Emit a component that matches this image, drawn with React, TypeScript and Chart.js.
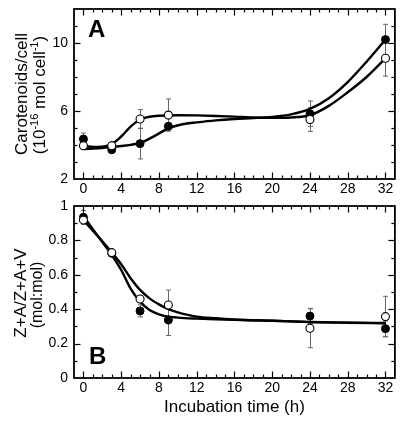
import React, { useEffect, useRef } from "react";
import { Chart, registerables } from "chart.js";

Chart.register(...registerables);

// ---- Data ----
const timePoints = [0, 3, 6, 9, 24, 32];

// Panel A: carotenoids per cell (10^-16 mol cell^-1)
const caroFilled = [4.35, 3.72, 4.08, 5.1, 5.84, 10.2];
const caroFilledErr = [0.35, 0.1, 0.9, 0.2, 0.75, 0.9];
const caroOpen = [3.96, 3.96, 5.53, 5.76, 5.5, 9.1];
const caroOpenErr = [0.1, 0.25, 0.55, 0.95, 0.7, 1.05];

const caroFitFilledX = [0, 1.5, 3, 4.5, 6, 7.5, 9, 10.5, 12, 14, 16, 18, 20, 22, 24, 26, 28, 30, 32];
const caroFitFilledY = [3.76, 3.8, 3.88, 3.97, 4.12, 4.52, 4.98, 5.22, 5.33, 5.45, 5.53, 5.58, 5.65, 5.8, 6.12, 6.75, 7.7, 8.9, 10.2];
const caroFitOpenX = [0, 1.5, 3, 4, 5, 6, 7, 8, 10, 12, 14, 16, 18, 20, 22, 24, 26, 28, 30, 32];
const caroFitOpenY = [3.93, 3.88, 4.05, 4.5, 5.08, 5.5, 5.66, 5.72, 5.75, 5.74, 5.71, 5.67, 5.62, 5.6, 5.62, 5.75, 6.3, 7.1, 8.0, 9.1];

// Panel B: Z+A / Z+A+V (mol:mol)
const ratioFilled = [0.934, 0.725, 0.39, 0.337, 0.36, 0.287];
const ratioFilledErr = [0.04, 0.01, 0.035, 0.09, 0.045, 0.045];
const ratioOpen = [0.918, 0.729, 0.459, 0.424, 0.289, 0.357];
const ratioOpenErr = [0.02, 0.01, 0.02, 0.087, 0.113, 0.118];

const ratioFitFilledX = [0, 1, 2, 3, 4, 5, 6, 7, 8, 9, 10, 12, 14, 16, 20, 24, 28, 32];
const ratioFitFilledY = [0.94, 0.865, 0.79, 0.715, 0.628, 0.52, 0.444, 0.395, 0.37, 0.357, 0.351, 0.345, 0.341, 0.338, 0.333, 0.325, 0.321, 0.318];
const ratioFitOpenX = [0, 1, 2, 3, 4, 5, 6, 7, 8, 9, 10, 12, 14, 16, 20, 24, 28, 32];
const ratioFitOpenY = [0.918, 0.857, 0.795, 0.73, 0.661, 0.58, 0.512, 0.463, 0.428, 0.4, 0.382, 0.357, 0.347, 0.34, 0.333, 0.326, 0.322, 0.32];

// Tick labels
const xTickLabels = [0, 4, 8, 12, 16, 20, 24, 28, 32];
const yTickLabelsA = [2, 6, 10];
const yTickLabelsB = [0, 0.2, 0.4, 0.6, 0.8, 1];

const FONT = '"Liberation Sans", Arial, Helvetica, sans-serif';

const pts = (xs: number[], ys: number[]) => xs.map((x, i) => ({ x, y: ys[i] }));
const hasLabel = (list: number[], v: number) => list.some((l) => Math.abs(l - v) < 1e-6);
const fmt = (v: number) => String(Math.round(v * 10) / 10);

// ---- Plugins ----
const errorBarsPlugin = {
  id: "errorBars",
  beforeDatasetsDraw(chart: any) {
    const { ctx, scales } = chart;
    const xs = scales.x;
    const ys = scales.y;
    ctx.save();
    ctx.strokeStyle = "#666";
    ctx.lineWidth = 1;
    chart.data.datasets.forEach((ds: any) => {
      if (!ds.errors) return;
      ds.data.forEach((p: any, i: number) => {
        const e = ds.errors[i];
        if (!e) return;
        const px = Math.round(xs.getPixelForValue(p.x)) + 0.5;
        const yt = ys.getPixelForValue(p.y + e);
        const yb = ys.getPixelForValue(p.y - e);
        ctx.beginPath();
        ctx.moveTo(px, yt);
        ctx.lineTo(px, yb);
        ctx.moveTo(px - 2.5, yt);
        ctx.lineTo(px + 2.5, yt);
        ctx.moveTo(px - 2.5, yb);
        ctx.lineTo(px + 2.5, yb);
        ctx.stroke();
      });
    });
    ctx.restore();
  },
};

const frameTicksPlugin = {
  id: "frameTicks",
  afterDatasetsDraw(chart: any) {
    const { ctx, chartArea: a, scales } = chart;
    const xs = scales.x;
    const ys = scales.y;
    ctx.save();
    ctx.strokeStyle = "#000";
    ctx.lineWidth = 1.2;
    const seg = (x1: number, y1: number, x2: number, y2: number) => {
      ctx.beginPath();
      ctx.moveTo(x1, y1);
      ctx.lineTo(x2, y2);
      ctx.stroke();
    };
    xs.ticks.forEach((t: any) => {
      if (t.value <= xs.min || t.value >= xs.max) return;
      const px = Math.round(xs.getPixelForValue(t.value)) + 0.5;
      const len = t.label ? 6.5 : 3.5;
      seg(px, a.bottom, px, a.bottom - len);
      seg(px, a.top, px, a.top + len);
    });
    ys.ticks.forEach((t: any) => {
      if (t.value <= ys.min + 1e-9 || t.value >= ys.max - 1e-9) return;
      const py = Math.round(ys.getPixelForValue(t.value)) + 0.5;
      const len = t.label ? 6.5 : 3.5;
      seg(a.left, py, a.left + len, py);
      seg(a.right, py, a.right - len, py);
    });
    ctx.lineWidth = 1.8;
    ctx.strokeRect(a.left, a.top, a.right - a.left, a.bottom - a.top);
    ctx.restore();
  },
};

type Seg = { t: string; sup?: boolean };
type TitleLine = { segs: Seg[]; size: number; baseX: number; centerY: number };

const axisTextsPlugin = {
  id: "axisTexts",
  afterDraw(chart: any, _args: any, opts: any) {
    const { ctx, chartArea: a } = chart;
    if (!opts) return;
    ctx.save();
    ctx.fillStyle = "#000";
    if (opts.letter) {
      ctx.font = `bold 24px ${FONT}`;
      ctx.textAlign = "left";
      ctx.textBaseline = "alphabetic";
      ctx.fillText(opts.letter, a.left + opts.letterDx, opts.letterFromBottom ? a.bottom - opts.letterDy : a.top + opts.letterDy);
    }
    (opts.lines || []).forEach((ln: TitleLine) => {
      const supSize = Math.round(ln.size * 0.62);
      const widths = ln.segs.map((s) => {
        ctx.font = `${s.sup ? supSize : ln.size}px ${FONT}`;
        return ctx.measureText(s.t).width;
      });
      const total = widths.reduce((p, c) => p + c, 0);
      ctx.save();
      ctx.translate(ln.baseX, ln.centerY);
      ctx.rotate(-Math.PI / 2);
      ctx.textAlign = "left";
      ctx.textBaseline = "alphabetic";
      let x = -total / 2;
      ln.segs.forEach((s, i) => {
        ctx.font = `${s.sup ? supSize : ln.size}px ${FONT}`;
        ctx.fillText(s.t, x, s.sup ? -ln.size * 0.42 : 0);
        x += widths[i];
      });
      ctx.restore();
    });
    ctx.restore();
  },
};

function markerSets(filled: number[], filledErr: number[], open: number[], openErr: number[]) {
  return [
    {
      type: "scatter",
      label: "open",
      data: pts(timePoints, open),
      errors: openErr,
      pointRadius: 4,
      pointHoverRadius: 4,
      pointBackgroundColor: "#fff",
      pointBorderColor: "#000",
      pointBorderWidth: 1.1,
      showLine: false,
    },
    {
      type: "scatter",
      label: "filled",
      data: pts(timePoints, filled),
      errors: filledErr,
      pointRadius: 4,
      pointHoverRadius: 4,
      pointBackgroundColor: "#000",
      pointBorderColor: "#000",
      pointBorderWidth: 1,
      showLine: false,
    },
  ];
}

function fitLine(xs: number[], ys: number[]) {
  return {
    type: "line",
    data: pts(xs, ys),
    borderColor: "#000",
    borderWidth: 2.4,
    pointRadius: 0,
    pointHoverRadius: 0,
    fill: false,
    cubicInterpolationMode: "monotone",
  };
}

function baseScales(yMin: number, yMax: number, yStep: number, yLabels: number[], xHeight: number, xTitle: boolean) {
  return {
    x: {
      type: "linear",
      min: -1,
      max: 33,
      afterFit: (s: any) => {
        s.height = xHeight;
        s.paddingLeft = 0;
        s.paddingRight = 0;
      },
      grid: { display: false, drawTicks: false },
      border: { display: false },
      title: xTitle
        ? {
            display: true,
            text: "Incubation time (h)",
            color: "#000",
            font: { family: FONT, size: 17 },
            padding: { top: 0, bottom: 6 },
          }
        : { display: false },
      ticks: {
        stepSize: 1,
        autoSkip: false,
        maxRotation: 0,
        minRotation: 0,
        padding: 2,
        color: "#000",
        font: { family: FONT, size: 14 },
        callback: (v: any) => (hasLabel(xTickLabels, Number(v)) ? fmt(Number(v)) : ""),
      },
    },
    y: {
      type: "linear",
      min: yMin,
      max: yMax,
      afterFit: (s: any) => {
        s.width = 74;
        s.paddingTop = 0;
        s.paddingBottom = 0;
      },
      grid: { display: false, drawTicks: false },
      border: { display: false },
      ticks: {
        stepSize: yStep,
        autoSkip: false,
        padding: 6,
        color: "#000",
        font: { family: FONT, size: 14 },
        callback: (v: any) => (hasLabel(yLabels, Number(v)) ? fmt(Number(v)) : ""),
      },
    },
  };
}

export default function App() {
  const refA = useRef<HTMLCanvasElement>(null);
  const refB = useRef<HTMLCanvasElement>(null);

  useEffect(() => {
    const chartA = new Chart(refA.current as HTMLCanvasElement, {
      type: "scatter",
      data: {
        datasets: [
          ...markerSets(caroFilled, caroFilledErr, caroOpen, caroOpenErr),
          fitLine(caroFitFilledX, caroFitFilledY),
          fitLine(caroFitOpenX, caroFitOpenY),
        ] as any,
      },
      options: {
        animation: false,
        responsive: false,
        events: [],
        layout: { padding: { top: 9, right: 5, left: 0, bottom: 0 } },
        plugins: {
          legend: { display: false },
          tooltip: { enabled: false },
          axisTexts: {
            letter: "A",
            letterDx: 14,
            letterDy: 28,
            lines: [
              { segs: [{ t: "Carotenoids/cell" }], size: 17, baseX: 27, centerY: 94 },
              {
                segs: [{ t: "(10" }, { t: "-16", sup: true }, { t: " mol cell" }, { t: "-1", sup: true }, { t: ")" }],
                size: 17,
                baseX: 45,
                centerY: 95,
              },
            ],
          },
        } as any,
        scales: baseScales(2, 12, 1, yTickLabelsA, 21, false) as any,
      },
      plugins: [errorBarsPlugin, frameTicksPlugin, axisTextsPlugin],
    });

    const chartB = new Chart(refB.current as HTMLCanvasElement, {
      type: "scatter",
      data: {
        datasets: [
          ...markerSets(ratioFilled, ratioFilledErr, ratioOpen, ratioOpenErr),
          fitLine(ratioFitFilledX, ratioFitFilledY),
          fitLine(ratioFitOpenX, ratioFitOpenY),
        ] as any,
      },
      options: {
        animation: false,
        responsive: false,
        events: [],
        layout: { padding: { top: 6, right: 5, left: 0, bottom: 0 } },
        plugins: {
          legend: { display: false },
          tooltip: { enabled: false },
          axisTexts: {
            letter: "B",
            letterDx: 15,
            letterDy: 14,
            letterFromBottom: true,
            lines: [
              { segs: [{ t: "Z+A/Z+A+V" }], size: 17, baseX: 26, centerY: 93 },
              { segs: [{ t: "(mol:mol)" }], size: 16, baseX: 42, centerY: 95 },
            ],
          },
        } as any,
        scales: baseScales(0, 1, 0.1, yTickLabelsB, 46, true) as any,
      },
      plugins: [errorBarsPlugin, frameTicksPlugin, axisTextsPlugin],
    });

    return () => {
      chartA.destroy();
      chartB.destroy();
    };
  }, []);

  return (
    <div style={{ position: "absolute", left: 0, top: 0, width: 400, height: 424, background: "#fff" }}>
      <canvas ref={refA} width={400} height={200} style={{ position: "absolute", left: 0, top: 0, display: "block" }} />
      <canvas ref={refB} width={400} height={224} style={{ position: "absolute", left: 0, top: 200, display: "block" }} />
    </div>
  );
}
